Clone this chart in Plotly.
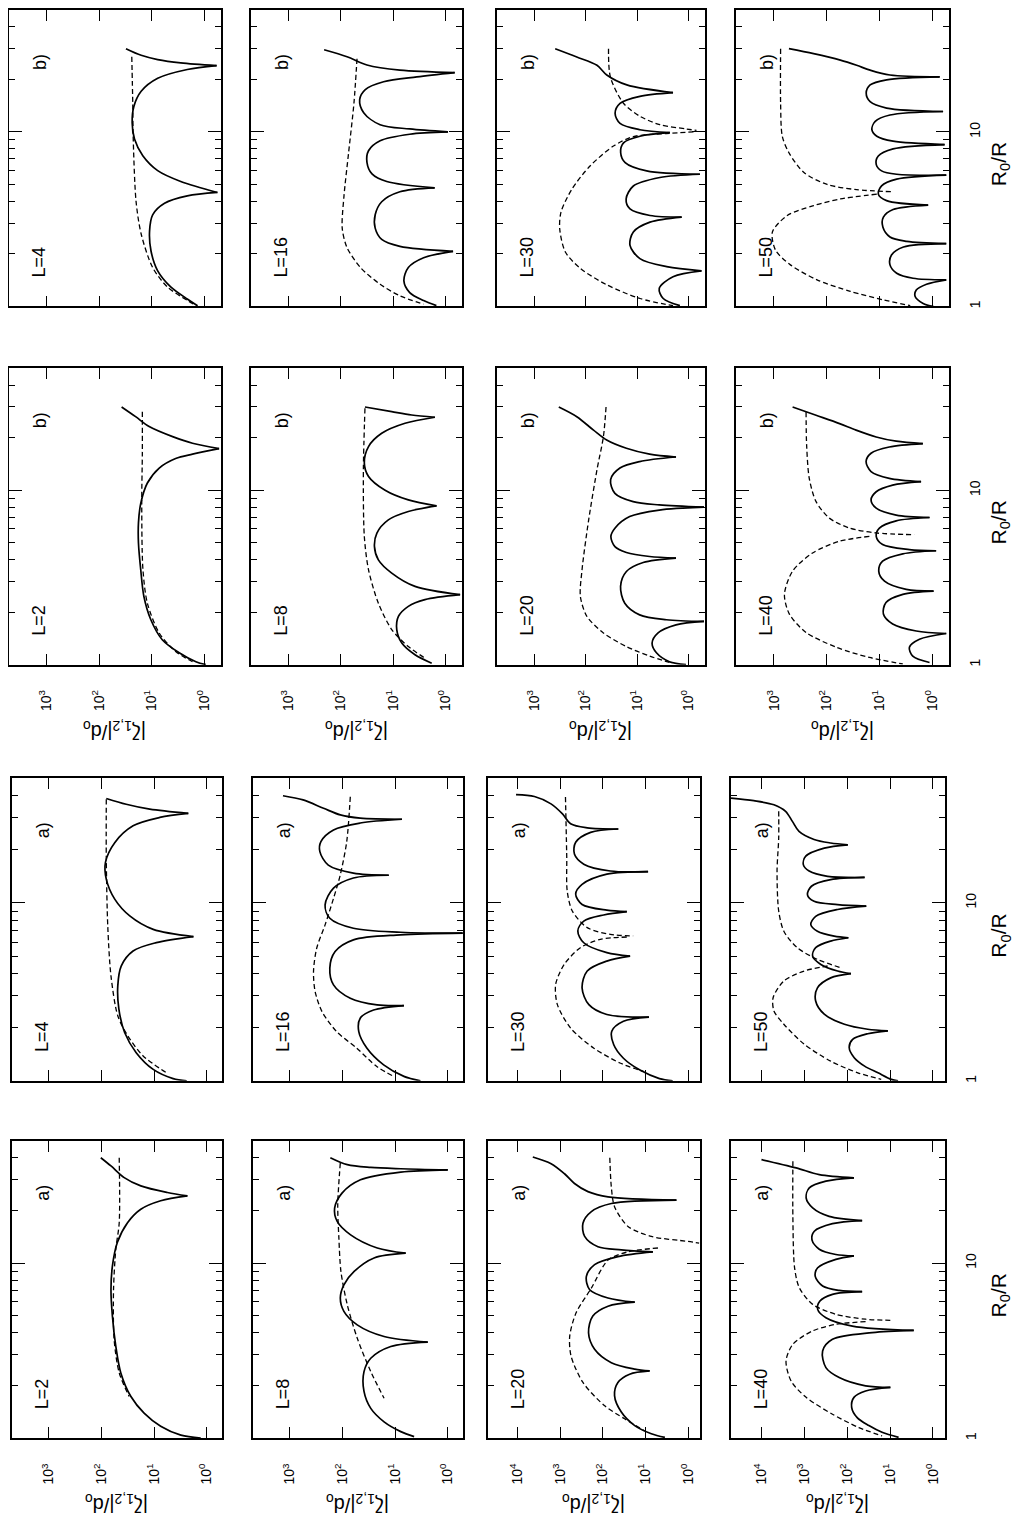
import math
import plotly.graph_objects as go

# ---------------- data: |zeta_{1,2}|/d0 versus R0/R ----------------
# ---- b) panels ----
L4b_solid_R = [30, 27.5, 26, 24.9, 24.0, 22.8, 20.3, 17.1, 14.0, 11.3, 9.1, 7.3, 6.0, 5.2, 4.5, 4.3, 3.9, 3.35, 2.7, 2.07, 1.6, 1.29, 1.1, 1.01]
L4b_solid_v = [31, 15.9, 7.7, 2.8, 0.58, 2.1, 7.7, 15.9, 21.9, 23.6, 21.3, 14.8, 7.7, 2.8, 0.56, 2.1, 5.7, 9.6, 11, 10.3, 7.7, 4.3, 2.07, 1.34]
L4b_dash_R = [27, 14.7, 9.5, 4.0, 2.6, 1.67, 1.29, 1.08, 1.0]
L4b_dash_v = [24, 23, 22.6, 19.9, 15.9, 9.6, 5.0, 2.07, 1.34]

L16b_solid_R = [29.6, 27, 24.2, 22.6, 21.9, 20.7, 19.4, 17.5, 15.3, 12.9, 11.0, 10.4, 10.0, 9.7, 8.9, 7.8, 6.7, 5.75, 5.2, 4.78, 4.54, 3.98, 3.35, 2.81, 2.42, 2.21, 2.07, 1.9, 1.67, 1.4, 1.2, 1.08, 1.01]
L16b_solid_v = [209, 76, 31.6, 7.4, 0.66, 3.5, 15.2, 34, 43.6, 36.5, 17.7, 4.8, 0.89, 4.8, 17.7, 29.5, 31.6, 25.3, 13.2, 1.6, 7.4, 16.5, 22, 22, 16.5, 7.4, 0.71, 2.6, 5.1, 6.2, 4.8, 2.6, 1.48]
L16b_dash_R = [26.3, 14.7, 7.6, 4.3, 2.8, 2.17, 1.67, 1.34, 1.15, 1.03]
L16b_dash_v = [49, 56, 71, 87, 94, 76, 42, 17.7, 7.4, 2.6]

L30b_solid_R = [30, 26.9, 24.1, 21.2, 18.6, 16.8, 16.0, 14.6, 12.8, 11.2, 10.3, 9.9, 9.45, 8.66, 7.6, 6.67, 5.98, 5.72, 5.48, 4.9, 4.13, 3.62, 3.32, 3.25, 3.04, 2.67, 2.24, 1.88, 1.69, 1.6, 1.48, 1.27, 1.11, 1.01]
L30b_solid_v = [389, 148, 60, 38.7, 15.8, 2.0, 8.8, 21.4, 26.7, 21.4, 8.8, 2.3, 8.8, 18.3, 20.8, 17, 6.5, 0.6, 3.6, 11.8, 16.3, 13.7, 5.6, 1.36, 5.6, 11.8, 13.7, 8.8, 2.66, 0.56, 2.0, 3.7, 3.1, 1.47]
L30b_dash_R = [30, 20.7, 14.6, 12.3, 11.0, 10.4, 10.2]
L30b_dash_v = [35.8, 33, 18.4, 8.8, 3.6, 1.1, 0.7]
L30b_dash2_R = [10.0, 9.8, 9.4, 8.3, 6.4, 4.7, 3.47, 2.79, 2.05, 1.65, 1.33, 1.11, 1.01]
L30b_dash2_v = [0.8, 2.7, 11.8, 28.7, 81, 184, 300, 318, 247, 126, 38.7, 8.8, 2.0]

L50b_solid_R = [30, 28.1, 25.8, 24.1, 22.6, 21.2, 20.7, 19.9, 18.6, 16.7, 14.9, 13.7, 13.1, 12.5, 11.5, 10.3, 9.45, 8.85, 8.47, 8.0, 7.28, 6.52, 5.98, 5.72, 5.65, 5.36, 4.91, 4.4, 4.04, 3.81, 3.59, 3.25, 2.85, 2.5, 2.36, 2.29, 2.19, 1.97, 1.73, 1.55, 1.45, 1.42, 1.34, 1.24, 1.14, 1.04, 1.0]
L50b_solid_v = [520, 177, 55, 27, 15, 6.3, 0.72, 7.3, 15, 17.8, 15, 7.3, 0.62, 6.3, 12, 13.9, 11.2, 5.5, 0.58, 5.5, 10.5, 11.5, 9.1, 4.7, 0.54, 4.7, 9.1, 10.5, 7.3, 1.19, 5.5, 8.4, 8.6, 6.3, 3.05, 0.54, 3.5, 5.9, 6.3, 4.7, 2.3, 0.54, 1.28, 2.0, 2.1, 1.48, 0.95]
L50b_dash_R = [30, 14.6, 9.45, 7.6, 5.85, 5.0, 4.67, 4.54]
L50b_dash_v = [748, 748, 695, 520, 270, 98, 27, 5.5]
L50b_dash2_R = [4.4, 4.13, 3.78, 3.32, 2.67, 2.1, 1.73, 1.42, 1.22, 1.09, 1.01]
L50b_dash2_v = [11.2, 55, 177, 560, 1070, 933, 488, 152, 35.7, 8.4, 2.6]

L2b_solid_R = [30, 26.4, 23.2, 20.3, 18.6, 17.3, 16.1, 15.2, 13.4, 11.0, 8.4, 6.5, 4.98, 3.5, 2.46, 1.81, 1.39, 1.17, 1.04, 1.0]
L2b_solid_v = [37.5, 20.3, 11.2, 4.0, 1.67, 0.52, 1.67, 3.5, 7.2, 12.1, 16.2, 17.9, 17.9, 16.2, 14.1, 10.4, 6.3, 3.0, 1.44, 0.93]
L2b_dash_R = [28.2, 16.3, 8.4, 3.5, 2.25, 1.52, 1.19, 1.04]
L2b_dash_v = [15.1, 15.1, 15.5, 14.7, 12.1, 7.2, 3.5, 1.67]

L8b_solid_R = [30, 28.2, 27.0, 26.2, 24.2, 21.2, 17.8, 14.3, 12.0, 10.0, 8.8, 8.13, 7.55, 6.76, 5.68, 4.75, 3.99, 3.35, 2.81, 2.52, 2.36, 2.16, 1.89, 1.59, 1.33, 1.14, 1.02]
L8b_solid_v = [34.5, 10.6, 4.4, 1.58, 5.9, 16.5, 29.5, 35.5, 29.5, 14.2, 5.1, 1.47, 5.1, 12.3, 20.4, 22.7, 19.1, 10.6, 3.8, 0.52, 2.45, 5.1, 7.9, 8.5, 6.8, 3.8, 1.82]
L8b_dash_R = [29.5, 13.1, 5.43, 3.5, 2.25, 1.59, 1.27, 1.09]
L8b_dash_v = [34.5, 37, 35.5, 29.5, 19.1, 10.6, 5.1, 2.45]

L20b_solid_R = [30, 26.4, 22.1, 19.4, 17.4, 16.1, 15.5, 14.6, 13.4, 11.5, 9.6, 8.6, 8.24, 8.0, 7.7, 7.06, 6.06, 5.43, 4.75, 4.4, 4.17, 4.08, 3.85, 3.42, 2.81, 2.25, 1.93, 1.81, 1.77, 1.69, 1.52, 1.33, 1.17, 1.04, 1.0]
L20b_solid_v = [331, 148, 70, 38.9, 16.1, 5.7, 1.75, 8.9, 21.5, 32.6, 26.9, 11.9, 3.7, 0.5, 3.7, 13.9, 26.9, 32.2, 26.9, 16.1, 5.7, 1.75, 7.6, 16.1, 20.9, 17.3, 8.9, 2.7, 0.5, 1.75, 3.9, 5.1, 4.2, 2.35, 1.12]
L20b_dash_R = [30, 20.3, 13.1, 6.76, 3.5, 2.46, 1.89, 1.52, 1.27, 1.12, 1.03]
L20b_dash_v = [40, 45, 60, 87, 117, 126, 94, 45, 16.1, 5.7, 2.35]

L40b_solid_R = [30, 26.9, 24.1, 22.1, 20.2, 19.1, 18.5, 17.7, 16.3, 14.6, 12.8, 11.7, 11.2, 10.7, 9.8, 8.8, 7.9, 7.2, 6.98, 6.68, 6.07, 5.44, 4.88, 4.57, 4.5, 4.32, 3.92, 3.44, 3.01, 2.7, 2.64, 2.53, 2.27, 1.95, 1.71, 1.56, 1.51, 1.4, 1.26, 1.12, 1.03]
L40b_solid_v = [443, 159, 57, 27.7, 11.5, 4.8, 1.5, 6.5, 14.4, 17.9, 14.4, 6.5, 1.62, 5.6, 11.5, 14.4, 11.5, 4.8, 1.12, 4.8, 10, 11.5, 8.7, 2.7, 0.84, 3.6, 8.7, 10.3, 8.0, 3.1, 0.94, 3.6, 7.5, 8.4, 5.6, 2.0, 0.54, 1.74, 2.7, 2.33, 1.12]
L40b_dash_R = [28.1, 18.1, 11.7, 8.6, 6.92, 6.07, 5.69, 5.56]
L40b_dash_v = [246, 240, 214, 159, 89, 37, 11.5, 2.17]
L40b_dash2_R = [5.44, 5.1, 4.37, 3.44, 2.53, 1.95, 1.53, 1.26, 1.1, 1.01]
L40b_dash2_v = [15.5, 57, 185, 443, 633, 510, 246, 66, 15.5, 3.6]

# ---- a) panels ----
L4a_solid_R = [38.6, 35.8, 33.6, 31.8, 30.2, 27.1, 21.8, 16.9, 13.6, 10.5, 8.45, 7.1, 6.47, 5.98, 5.37, 4.43, 3.42, 2.53, 1.87, 1.44, 1.16, 1.03, 1.0]
L4a_solid_v = [81, 33.9, 12.1, 2.24, 7.8, 25.1, 56, 84, 81, 56, 29, 10.4, 1.79, 9.1, 25.1, 42, 49, 46.7, 36.3, 21.9, 10.4, 4.35, 2.4]
L4a_dash_R = [38.2, 17.6, 7.43, 3.89, 2.32, 1.79, 1.38, 1.11]
L4a_dash_v = [81, 81, 76, 66, 49, 31.6, 16.2, 5.8]

L16a_solid_R = [40, 37.9, 34, 31.2, 29.9, 29.5, 28.1, 25.7, 22.1, 19.4, 16.3, 14.7, 14.3, 13.8, 12.1, 9.75, 8.2, 7.2, 6.84, 6.76, 6.61, 6.2, 5.33, 4.3, 3.46, 2.91, 2.67, 2.65, 2.5, 2.25, 1.89, 1.53, 1.23, 1.06, 1.0]
L16a_solid_v = [1350, 560, 229, 110, 46, 7.4, 46, 148, 257, 269, 186, 62, 13.2, 62, 148, 214, 174, 62, 7.9, 0.52, 7.9, 62, 138, 174, 148, 71, 22, 6.8, 25.7, 46, 49, 34.5, 16.5, 6.8, 3.3]
L16a_dash_R = [39.5, 22.1, 14.4, 10.6, 7.52, 5.56, 4.11, 3.18, 2.45, 1.89, 1.53, 1.2, 1.06]
L16a_dash_v = [71, 83, 110, 148, 214, 309, 355, 331, 245, 129, 54, 22, 10.6]

L30a_solid_R = [40.6, 39.6, 36, 31.6, 27.8, 26.4, 26.0, 24.9, 21.9, 18.8, 16.5, 15.1, 15.0, 14.5, 12.7, 11.2, 9.8, 9.1, 8.93, 8.55, 7.9, 6.95, 5.97, 5.25, 5.02, 4.71, 4.14, 3.33, 2.68, 2.36, 2.28, 2.16, 1.9, 1.6, 1.34, 1.15, 1.03, 1.0]
L30a_solid_v = [11000, 4070, 1660, 891, 575, 234, 43.6, 195, 437, 468, 282, 67, 8.7, 81, 309, 437, 309, 81, 27.5, 96, 282, 389, 282, 81, 23, 81, 234, 309, 214, 81, 8.3, 33, 62, 56, 33, 13.5, 4.7, 2.3]
L30a_dash_R = [39.3, 18.0, 11.7, 9.0, 7.26, 6.65, 6.52]
L30a_dash_v = [759, 708, 692, 525, 234, 67, 19.5]
L30a_dash2_R = [6.43, 6.24, 5.6, 4.51, 3.48, 2.68, 1.98, 1.53, 1.26, 1.13]
L30a_dash2_v = [27.5, 115, 339, 813, 1290, 1175, 575, 166, 39.8, 11.2]

L50a_solid_R = [38.8, 37.5, 35.6, 32.7, 28.7, 25.2, 22.7, 21.7, 21.2, 20.3, 18.3, 16.4, 15.1, 14.1, 13.9, 13.5, 12.4, 11.1, 10.2, 9.78, 9.6, 9.18, 8.4, 7.56, 6.93, 6.5, 6.37, 6.1, 5.6, 5.02, 4.51, 4.14, 4.0, 3.79, 3.33, 2.81, 2.37, 2.08, 1.95, 1.91, 1.84, 1.71, 1.54, 1.35, 1.21, 1.11, 1.02, 1.0]
L50a_solid_v = [50000, 14800, 5020, 2690, 1870, 1310, 585, 240, 96, 339, 912, 1040, 762, 283, 39, 240, 673, 832, 585, 166, 35.7, 166, 537, 697, 488, 199, 93, 240, 537, 633, 407, 166, 81, 240, 488, 537, 339, 115, 33, 11.2, 33, 74, 89, 68, 39, 19, 9.3, 6.5]
L50a_dash_R = [32.7, 23.1, 15.1, 9.0, 6.93, 5.6, 4.81, 4.32]
L50a_dash_v = [3890, 3890, 4250, 3890, 2950, 1440, 488, 138]
L50a_dash2_R = [4.42, 4.14, 3.64, 2.93, 2.47, 2.08, 1.61, 1.29, 1.11, 1.02]
L50a_dash2_v = [283, 1000, 2950, 5250, 5020, 2950, 1000, 240, 56, 16]

L2a_solid_R = [40, 35.9, 30.8, 27.6, 25.3, 24.2, 22.7, 20.3, 17.0, 13.1, 9.6, 7.06, 4.98, 3.35, 2.36, 1.73, 1.39, 1.17, 1.04, 1.0]
L2a_solid_v = [103, 66, 37, 17.9, 5.6, 2.33, 7.5, 17.9, 32, 50, 62, 66, 62, 53.4, 42.9, 27.6, 15.5, 7.5, 3.1, 1.3]
L2a_dash_R = [40, 17, 12.0, 7.06, 3.66, 2.36, 1.73]
L2a_dash_v = [46, 46, 53.4, 59, 57.5, 46, 29.8]

L8a_solid_R = [40, 36.5, 35.2, 34.6, 34.1, 33.1, 29.9, 25.1, 20.6, 17.3, 14.5, 12.2, 11.4, 10.7, 8.96, 7.52, 6.31, 5.3, 4.44, 3.81, 3.54, 3.34, 2.86, 2.4, 1.85, 1.48, 1.24, 1.09, 1.02]
L8a_solid_v = [170, 81, 29, 7.8, 1.0, 7.8, 45.5, 102, 141, 126, 70, 21.8, 6.3, 25.1, 60, 94, 110, 94, 52.5, 16.2, 2.4, 12.1, 29, 39, 39, 29, 16.2, 7.8, 4.35]
L8a_dash_R = [37.3, 21.5, 13.9, 8.96, 5.78, 3.73, 2.4, 1.69]
L8a_dash_v = [110, 123, 117, 107, 81, 52.5, 29, 16.2]

L20a_solid_R = [40.4, 37, 32.4, 28.5, 25.6, 23.9, 22.9, 21.9, 19.7, 16.9, 14.2, 12.4, 11.9, 11.6, 10.9, 9.8, 8.4, 7.05, 6.32, 5.98, 5.67, 4.98, 4.0, 3.22, 2.7, 2.48, 2.42, 2.32, 2.08, 1.75, 1.41, 1.18, 1.06, 1.01]
L20a_solid_v = [4440, 1650, 800, 466, 225, 76, 1.88, 63.6, 187, 295, 269, 131, 37, 6.7, 44.5, 157, 245, 205, 76, 17.9, 76, 173, 218, 157, 63.6, 17.9, 8.0, 23.6, 44.5, 53.4, 37, 17.9, 7.3, 3.5]
L20a_dash_R = [40, 27.3, 21, 16.2, 14.2, 13.3, 13.0]
L20a_dash_v = [69, 63.6, 53.4, 25.8, 7.3, 1.0, 0.55]
L20a_dash2_R = [12.2, 11.6, 10.4, 7.2, 5.2, 3.83, 2.95, 2.08, 1.53, 1.29, 1.1]
L20a_dash2_v = [5.1, 25.8, 76, 187, 427, 603, 562, 295, 91, 31, 10.5]

L40a_solid_R = [39, 35, 32, 30.7, 29.4, 26.9, 23.6, 20.7, 18.5, 17.5, 16.8, 15.2, 13.6, 12.0, 11.2, 11.0, 10.5, 9.4, 8.4, 7.4, 6.98, 6.87, 6.63, 6.07, 5.44, 4.88, 4.37, 4.13, 4.01, 3.67, 3.15, 2.53, 2.22, 1.99, 1.95, 1.86, 1.71, 1.5, 1.31, 1.18, 1.08, 1.01]
L40a_solid_v = [9800, 1520, 443, 69, 310, 755, 895, 630, 261, 44.5, 218, 577, 655, 443, 182, 69, 182, 482, 549, 370, 152, 44.5, 218, 427, 482, 310, 75, 2.8, 26, 218, 370, 310, 152, 37, 9.8, 37, 69, 78, 58, 31, 15.3, 6.3]
L40a_dash_R = [38.2, 18.2, 9.4, 7.23, 5.81, 5.1, 4.78, 4.71]
L40a_dash_v = [1820, 1820, 1660, 1290, 630, 182, 37, 8.9]
L40a_dash2_R = [4.63, 4.47, 4.1, 3.44, 2.76, 2.12, 1.71, 1.37, 1.15, 1.03]
L40a_dash2_v = [37, 182, 630, 1820, 2630, 2000, 895, 218, 53, 15.3]

# tick / label text
R_TICKS = [1, 10]
R_TICK_TEXT = ["1", "10"]
R_MINOR = [2, 3, 4, 5, 6, 7, 8, 9, 20, 30, 40]
R_MAX = 50

PANELS = [
    dict(row=1, col=1, L="L=4", tag="b)", dec=3, solid=(L4b_solid_R, L4b_solid_v), dashed=[(L4b_dash_R, L4b_dash_v)]),
    dict(row=1, col=2, L="L=16", tag="b)", dec=3, solid=(L16b_solid_R, L16b_solid_v), dashed=[(L16b_dash_R, L16b_dash_v)]),
    dict(row=1, col=3, L="L=30", tag="b)", dec=3, solid=(L30b_solid_R, L30b_solid_v), dashed=[(L30b_dash_R, L30b_dash_v), (L30b_dash2_R, L30b_dash2_v)]),
    dict(row=1, col=4, L="L=50", tag="b)", dec=3, solid=(L50b_solid_R, L50b_solid_v), dashed=[(L50b_dash_R, L50b_dash_v), (L50b_dash2_R, L50b_dash2_v)]),
    dict(row=2, col=1, L="L=2", tag="b)", dec=3, solid=(L2b_solid_R, L2b_solid_v), dashed=[(L2b_dash_R, L2b_dash_v)]),
    dict(row=2, col=2, L="L=8", tag="b)", dec=3, solid=(L8b_solid_R, L8b_solid_v), dashed=[(L8b_dash_R, L8b_dash_v)]),
    dict(row=2, col=3, L="L=20", tag="b)", dec=3, solid=(L20b_solid_R, L20b_solid_v), dashed=[(L20b_dash_R, L20b_dash_v)]),
    dict(row=2, col=4, L="L=40", tag="b)", dec=3, solid=(L40b_solid_R, L40b_solid_v), dashed=[(L40b_dash_R, L40b_dash_v), (L40b_dash2_R, L40b_dash2_v)]),
    dict(row=3, col=1, L="L=4", tag="a)", dec=3, solid=(L4a_solid_R, L4a_solid_v), dashed=[(L4a_dash_R, L4a_dash_v)]),
    dict(row=3, col=2, L="L=16", tag="a)", dec=3, solid=(L16a_solid_R, L16a_solid_v), dashed=[(L16a_dash_R, L16a_dash_v)]),
    dict(row=3, col=3, L="L=30", tag="a)", dec=4, solid=(L30a_solid_R, L30a_solid_v), dashed=[(L30a_dash_R, L30a_dash_v), (L30a_dash2_R, L30a_dash2_v)]),
    dict(row=3, col=4, L="L=50", tag="a)", dec=4, solid=(L50a_solid_R, L50a_solid_v), dashed=[(L50a_dash_R, L50a_dash_v), (L50a_dash2_R, L50a_dash2_v)]),
    dict(row=4, col=1, L="L=2", tag="a)", dec=3, solid=(L2a_solid_R, L2a_solid_v), dashed=[(L2a_dash_R, L2a_dash_v)]),
    dict(row=4, col=2, L="L=8", tag="a)", dec=3, solid=(L8a_solid_R, L8a_solid_v), dashed=[(L8a_dash_R, L8a_dash_v)]),
    dict(row=4, col=3, L="L=20", tag="a)", dec=4, solid=(L20a_solid_R, L20a_solid_v), dashed=[(L20a_dash_R, L20a_dash_v), (L20a_dash2_R, L20a_dash2_v)]),
    dict(row=4, col=4, L="L=40", tag="a)", dec=4, solid=(L40a_solid_R, L40a_solid_v), dashed=[(L40a_dash_R, L40a_dash_v), (L40a_dash2_R, L40a_dash2_v)]),
]

# ---------------- geometry (page pixels; page body has an 8 px margin) ----------------
OFF = 8
W, H = 1022 - 2 * OFF, 1529 - 2 * OFF
ROW_Y = {1: (9, 306), 2: (368, 665), 3: (779, 1082), 4: (1142, 1440)}
COL_X_TOP = {1: (9, 221), 2: (251, 462), 3: (497, 705), 4: (736, 949)}
COL_X_BOT = {1: (12, 222), 2: (253, 463), 3: (488, 700), 4: (731, 945)}
XRANGE = {("top", 3): [3.72, -0.32], ("bot", 3): [3.70, -0.29], ("bot", 4): [4.70, -0.28]}


def px(x):
    return (x - OFF) / W


def py(y):
    return 1 - (y - OFF) / H


def arches(R, v):
    """Break a solid curve at its cusps (local minima) so each arch is smoothed separately."""
    xs, ys = [], []
    n = len(v)
    for i in range(n):
        xs.append(v[i])
        ys.append(R[i])
        if 0 < i < n - 1 and v[i] < v[i - 1] and v[i] < v[i + 1]:
            xs += [None, v[i]]
            ys += [None, R[i]]
    return xs, ys


FONT = "Liberation Sans, Arial, sans-serif"
fig = go.Figure()
layout = dict(width=W, height=H, autosize=False, margin=dict(l=0, r=0, t=0, b=0),
              paper_bgcolor="white", plot_bgcolor="white", showlegend=False,
              font=dict(family=FONT, color="black"))
annotations = []

for i, p in enumerate(PANELS, start=1):
    sfx = "" if i == 1 else str(i)
    xref, yref = "x" + sfx, "y" + sfx
    grp = "top" if p["row"] <= 2 else "bot"
    x0, x1 = (COL_X_TOP if grp == "top" else COL_X_BOT)[p["col"]]
    y0, y1 = ROW_Y[p["row"]]
    dec = p["dec"]

    sx, sy = arches(*p["solid"])
    fig.add_trace(go.Scatter(x=sx, y=sy, mode="lines", xaxis=xref, yaxis=yref, connectgaps=False,
                             line=dict(color="black", width=1.7, shape="spline", smoothing=0.9),
                             hoverinfo="skip"))
    for dR, dv in p["dashed"]:
        fig.add_trace(go.Scatter(x=dv, y=dR, mode="lines", xaxis=xref, yaxis=yref,
                                 line=dict(color="black", width=1.3, dash="5px,3px",
                                           shape="spline", smoothing=0.8),
                                 hoverinfo="skip"))

    tv = [10 ** k for k in range(dec + 1)]
    tt = ["10<sup>%d</sup>" % k for k in range(dec + 1)]
    layout["xaxis" + sfx] = dict(
        domain=[px(x0), px(x1)], anchor=yref, type="log", range=XRANGE[(grp, dec)],
        tickmode="array", tickvals=tv, ticktext=tt, ticks="inside", ticklen=11, tickwidth=1.3,
        tickcolor="black", showline=True, linecolor="black", linewidth=1.6, mirror="ticks",
        showgrid=False, zeroline=False, showticklabels=p["row"] in (2, 4), tickangle=-90,
        tickfont=dict(size=14, family=FONT), ticklabelstandoff=18, fixedrange=True)
    layout["yaxis" + sfx] = dict(
        domain=[py(y1), py(y0)], anchor=xref, type="log", range=[0, math.log10(R_MAX)],
        tickmode="array", tickvals=R_TICKS, ticktext=R_TICK_TEXT, ticks="inside", ticklen=13,
        tickwidth=1.3, tickcolor="black",
        minor=dict(tickmode="array", tickvals=R_MINOR, ticks="inside", ticklen=6, tickwidth=1.3,
                   tickcolor="black", showgrid=False),
        showline=True, linecolor="black", linewidth=1.6, mirror="ticks", showgrid=False,
        zeroline=False, side="right" if p["col"] == 4 else "left",
        showticklabels=p["col"] == 4, tickangle=-90, tickfont=dict(size=14, family=FONT),
        ticklabelstandoff=12, fixedrange=True)

    llen = 30 if len(p["L"]) == 3 else 40
    annotations.append(dict(text=p["L"], x=px(x0 + 30), y=py(y1 - 29 - llen / 2),
                            xref="paper", yref="paper", showarrow=False, textangle=-90,
                            xanchor="center", yanchor="middle", font=dict(size=18, family=FONT)))
    annotations.append(dict(text=p["tag"], x=px(x0 + 31), y=py(y0 + 52),
                            xref="paper", yref="paper", showarrow=False, textangle=-90,
                            xanchor="center", yanchor="middle", font=dict(size=18, family=FONT)))
    if p["row"] in (2, 4):
        annotations.append(dict(text="|ζ<sub>1,2</sub>|/d<sub>o</sub>", x=px((x0 + x1) / 2),
                                y=py(y1 + 66), xref="paper", yref="paper", showarrow=False,
                                textangle=180, xanchor="center", yanchor="middle",
                                font=dict(size=20, family=FONT)))
    if p["col"] == 4:
        annotations.append(dict(text="R<sub>0</sub>/R", x=px(1000), y=py((y0 + y1) / 2 + 6),
                                xref="paper", yref="paper", showarrow=False, textangle=-90,
                                xanchor="center", yanchor="middle", font=dict(size=21, family=FONT)))

layout["annotations"] = annotations
fig.update_layout(**layout)
fig.write_html("out.html", config={"displayModeBar": False})
